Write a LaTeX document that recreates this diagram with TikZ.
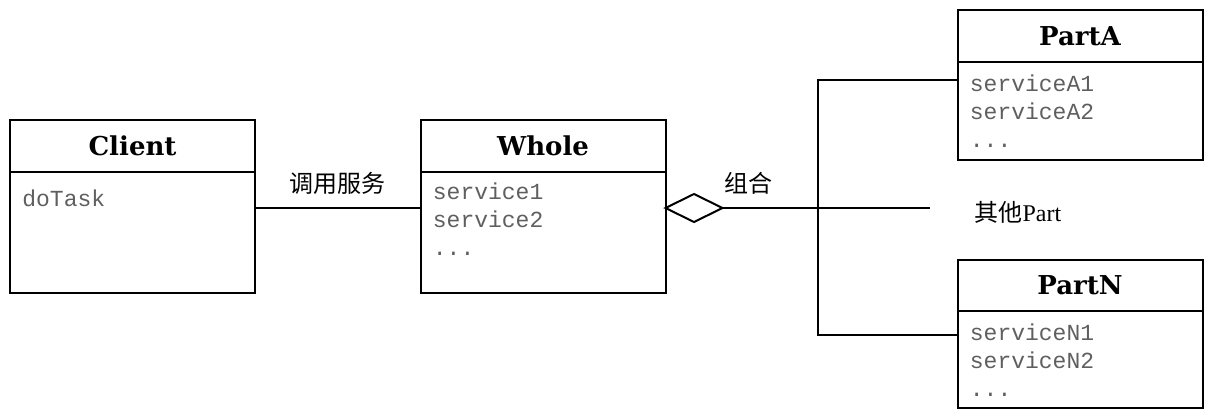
\documentclass[tikz,border=0pt]{standalone}
\usepackage{fontspec}
\setmainfont{Liberation Serif}
\setmonofont{Liberation Mono}
\newfontfamily\cjk{Noto Sans CJK SC}
\newfontfamily\heading{DejaVu Serif}
\usetikzlibrary{positioning,shapes.geometric}
\definecolor{opgray}{RGB}{95,95,95}
\begin{document}
\begin{tikzpicture}[x=0.5pt, y=-0.5pt,
    title/.style={draw, line width=1pt, outer sep=0pt, inner sep=0pt, minimum width=122.5pt, minimum height=26pt, font=\heading\fontsize{13}{15}\selectfont\bfseries},
    body/.style={draw, line width=1pt, outer sep=0pt, inner sep=0pt, minimum width=122.5pt},
    ops/.style={anchor=north west, inner sep=0pt, align=left, text=opgray, font=\ttfamily\fontsize{11.5}{14}\selectfont},
    lbl/.style={font=\fontsize{12}{14}\selectfont},
    agg/.style={diamond, draw, line width=1pt, outer sep=0pt, inner sep=0pt, minimum width=28.5pt, minimum height=14pt, fill=white}]
  \useasboundingbox (0,0) rectangle (1208,418);

  % classes
  \node[title] (client) at (132.5,146) {Client};
  \node[body, minimum height=60.5pt, below=0pt of client] (clientops) {};
  \node[ops] (clientlist) at ([xshift=6pt,yshift=-8.5pt]clientops.north west) {doTask};

  \node[title] (whole) at (543,146) {Whole};
  \node[body, minimum height=60.5pt, below=0pt of whole] (wholeops) {};
  \node[ops] (wholelist) at ([xshift=6pt,yshift=-5pt]wholeops.north west) {service1\\service2\\...};

  \node[title] (parta) at (1080,36) {PartA};
  \node[body, minimum height=49pt, below=0pt of parta] (partaops) {};
  \node[ops] (partalist) at ([xshift=6pt,yshift=-6pt]partaops.north west) {serviceA1\\serviceA2\\...};

  \node[title, minimum height=25.5pt] (partn) at (1080,285.5) {PartN};
  \node[body, minimum height=48.5pt, below=0pt of partn] (partnops) {};
  \node[ops] (partnlist) at ([xshift=6pt,yshift=-6pt]partnops.north west) {serviceN1\\serviceN2\\...};

  % links
  \node[agg, anchor=west] (dia) at ([yshift=-18pt]wholeops.north east) {};
  \coordinate (jn) at ([xshift=47.5pt]dia.east);
  \coordinate (other) at ([xshift=103.5pt]dia.east);
  \node[lbl, anchor=west] (otherlbl) at ([xshift=19pt,yshift=-2pt]other) {{\cjk 其他}Part};

  \draw[line width=1pt] (clientops.east |- dia) -- node[lbl, above=3pt] {\cjk 调用服务} (wholeops.west |- dia);
  \draw[line width=1pt] (dia.east) -- node[lbl, pos=0.27, above=3pt] {\cjk 组合} (jn) -- (other);

  \coordinate (ta) at ([yshift=-9pt]partaops.north west);
  \coordinate (tn) at ([yshift=-12pt]partnops.north west);
  \draw[line width=1pt] (ta) -| (jn) |- (tn);
\end{tikzpicture}
\end{document}
